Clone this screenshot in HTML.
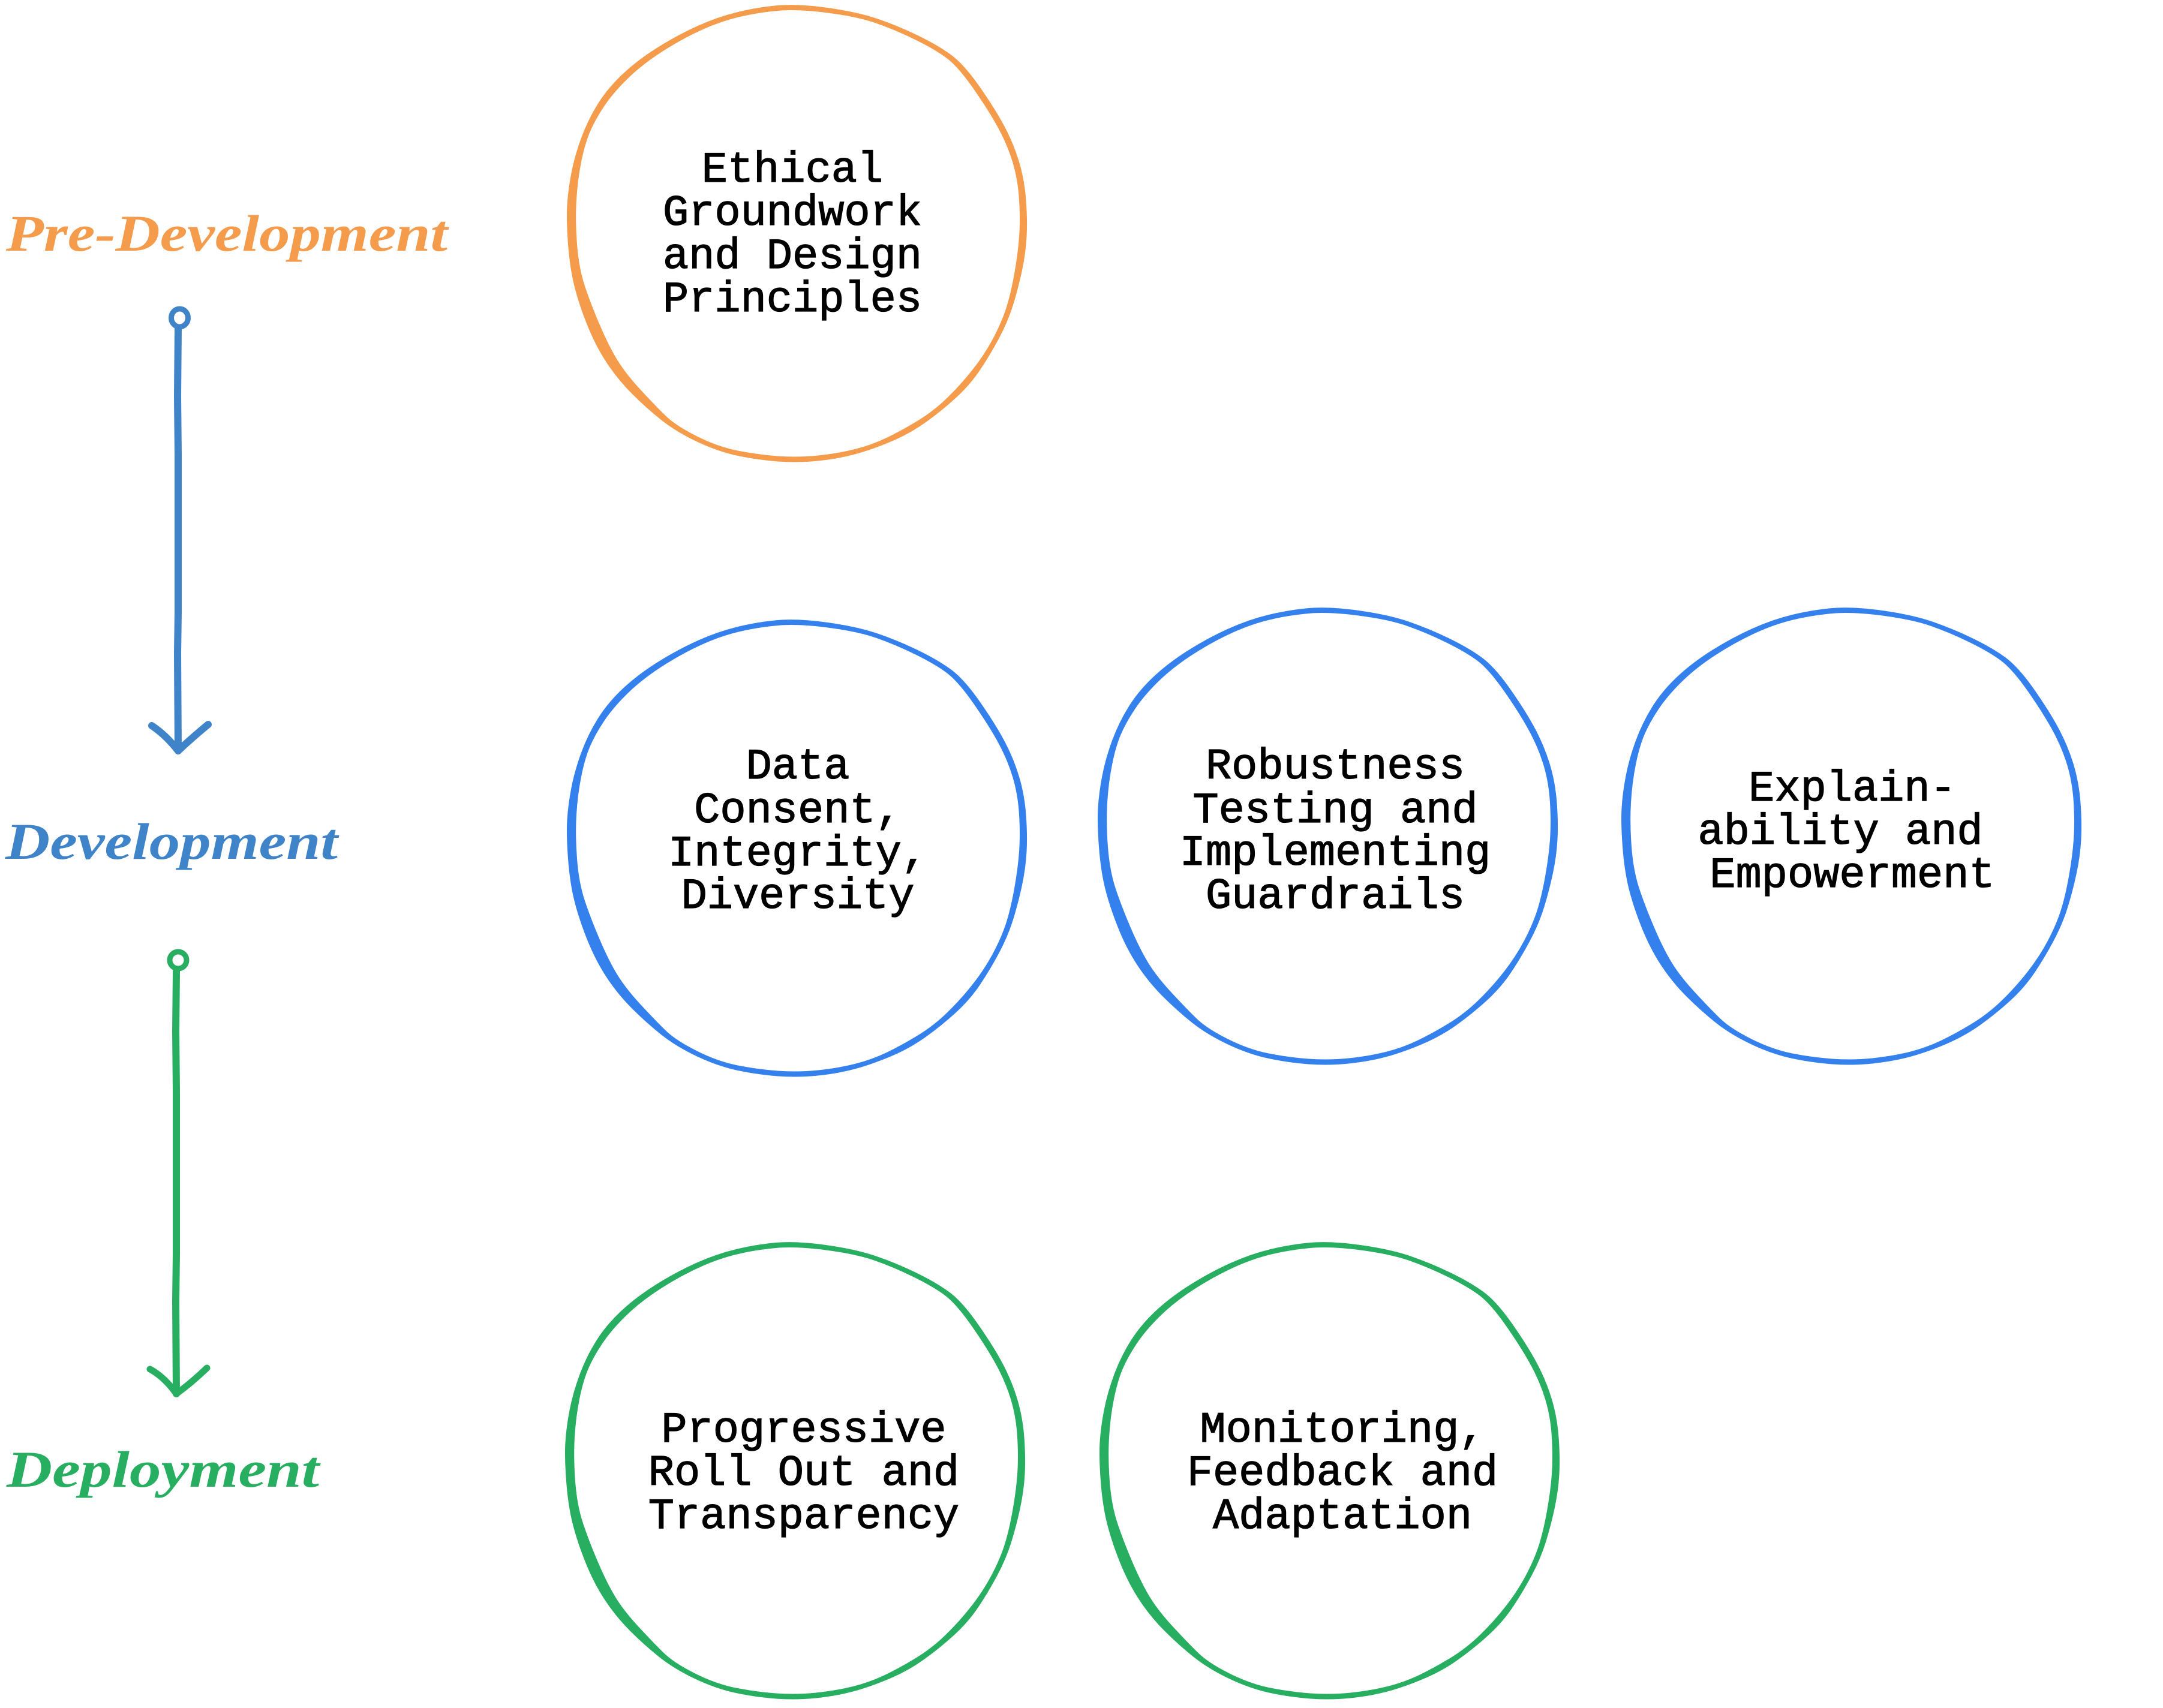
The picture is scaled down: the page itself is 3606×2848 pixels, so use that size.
<!DOCTYPE html>
<html><head><meta charset="utf-8"><style>html,body{margin:0;padding:0;background:#fff}svg{display:block}
.t{font-family:"Liberation Mono",monospace;font-size:72px;fill:#000;stroke:#000;stroke-width:1.3px;text-anchor:middle}
.h{font-family:"Liberation Serif",serif;font-style:italic;font-weight:700;font-size:86px}</style></head><body>
<svg xmlns="http://www.w3.org/2000/svg" width="3606" height="2848" viewBox="0 0 3606 2848">
<rect width="3606" height="2848" fill="#fff"/>
<defs>
<path id="c" fill-rule="evenodd" d="M1296.5 9Q1330 6 1380 13Q1430 20 1463.5 31.5Q1497 43 1530 59Q1563 75 1585 91Q1607 107 1633.5 145Q1660 183 1675 211.5Q1690 240 1699 270Q1708 300 1710.5 333.5Q1713 367 1711.5 395Q1710 423 1703.5 453Q1697 483 1688.5 510Q1680 537 1665 565Q1650 593 1633.5 617.5Q1617 642 1593.5 663.5Q1570 685 1543.5 704Q1517 723 1485 736.5Q1453 750 1425 757.5Q1397 765 1363.5 768.5Q1330 772 1296.5 769.5Q1263 767 1230 760Q1197 753 1162 736.5Q1127 720 1102 700Q1077 680 1053.5 656.5Q1030 633 1011.5 605Q993 577 979 542Q965 507 957.5 477Q950 447 947 407Q944 367 945.5 342Q947 317 952.5 288.5Q958 260 969 230Q980 200 996.5 173.5Q1013 147 1038 123.5Q1063 100 1096.5 79Q1130 58 1163.5 43Q1197 28 1230 20Q1263 12 1296.5 9Z
M1296.5 18Q1330 15 1380 21.5Q1430 28 1461.5 39Q1493 50 1526.5 66.5Q1560 83 1579 97.5Q1598 112 1624 149.5Q1650 187 1665 215Q1680 243 1688.5 271.5Q1697 300 1699 333.5Q1701 367 1699 395Q1697 423 1691 456.5Q1685 490 1677.5 513.5Q1670 537 1656 563.5Q1642 590 1622.5 615Q1603 640 1580 662.5Q1557 685 1530 701.5Q1503 718 1478 730Q1453 742 1425 749Q1397 756 1363.5 759.5Q1330 763 1296.5 760.5Q1263 758 1230 751.5Q1197 745 1162 727.5Q1127 710 1110 693.5Q1093 677 1068 650Q1043 623 1029 600Q1015 577 1000 542Q985 507 975 477Q965 447 962 407Q959 367 961 333.5Q963 300 969 270Q975 240 983.5 220Q992 200 1007 177.5Q1022 155 1046 131.5Q1070 108 1102.5 87Q1135 66 1167.5 51Q1200 36 1231.5 28.5Q1263 21 1296.5 18Z"/>
</defs>

<use href="#c" fill="#f59c4c"/>
<use href="#c" fill="#3481ee" transform="translate(0 1025)"/>
<use href="#c" fill="#3481ee" transform="translate(885 1005)"/>
<use href="#c" fill="#3481ee" transform="translate(1758 1005)"/>
<use href="#c" fill="#27ae60" transform="translate(-3 2063)"/>
<use href="#c" fill="#27ae60" transform="translate(888 2063)"/>

<text class="t" x="1321" y="303">Ethical</text>
<text class="t" x="1321" y="375">Groundwork</text>
<text class="t" x="1321" y="447">and Design</text>
<text class="t" x="1321" y="519">Principles</text>

<text class="t" x="1330" y="1298">Data</text>
<text class="t" x="1330" y="1371">Consent,</text>
<text class="t" x="1330" y="1443">Integrity,</text>
<text class="t" x="1330" y="1514">Diversity</text>

<text class="t" x="2226" y="1298">Robustness</text>
<text class="t" x="2226" y="1371">Testing and</text>
<text class="t" x="2226" y="1442">Implementing</text>
<text class="t" x="2226" y="1514">Guardrails</text>

<text class="t" x="3088" y="1335">Explain-</text>
<text class="t" x="3068" y="1407">ability and</text>
<text class="t" x="3088" y="1479">Empowerment</text>

<text class="t" x="1340" y="2404">Progressive</text>
<text class="t" x="1340" y="2476">Roll Out and</text>
<text class="t" x="1340" y="2548">Transparency</text>

<text class="t" x="2238" y="2404">Monitoring,</text>
<text class="t" x="2238" y="2476">Feedback and</text>
<text class="t" x="2238" y="2548">Adaptation</text>

<text class="h" x="10" y="418" fill="#f59c4c" textLength="736" lengthAdjust="spacingAndGlyphs">Pre-Development</text>
<text class="h" x="9" y="1432" fill="#3f84c8" textLength="554" lengthAdjust="spacingAndGlyphs">Development</text>
<text class="h" x="11" y="2479" fill="#27ae60" textLength="521" lengthAdjust="spacingAndGlyphs">Deployment</text>

<g fill="none" stroke="#3f84c8" stroke-linecap="round" stroke-linejoin="round">
<ellipse cx="299.5" cy="530" rx="14" ry="15" stroke-width="9"/>
<path stroke-width="12" d="M297 548L296 660L297 760L297 1020L296 1090L297 1252"/>
<path stroke-width="12" d="M253 1210Q277 1226 297 1252Q318 1232 347 1208"/>
</g>
<g fill="none" stroke="#27ae60" stroke-linecap="round" stroke-linejoin="round">
<ellipse cx="297" cy="1601" rx="14" ry="14" stroke-width="9"/>
<path stroke-width="12" d="M294 1620L293 1720L294 1820L294 2090L293 2170L294 2324"/>
<path stroke-width="11" d="M250 2283Q274 2296 294 2324Q319 2306 345 2281"/>
</g>
</svg>
</body></html>
